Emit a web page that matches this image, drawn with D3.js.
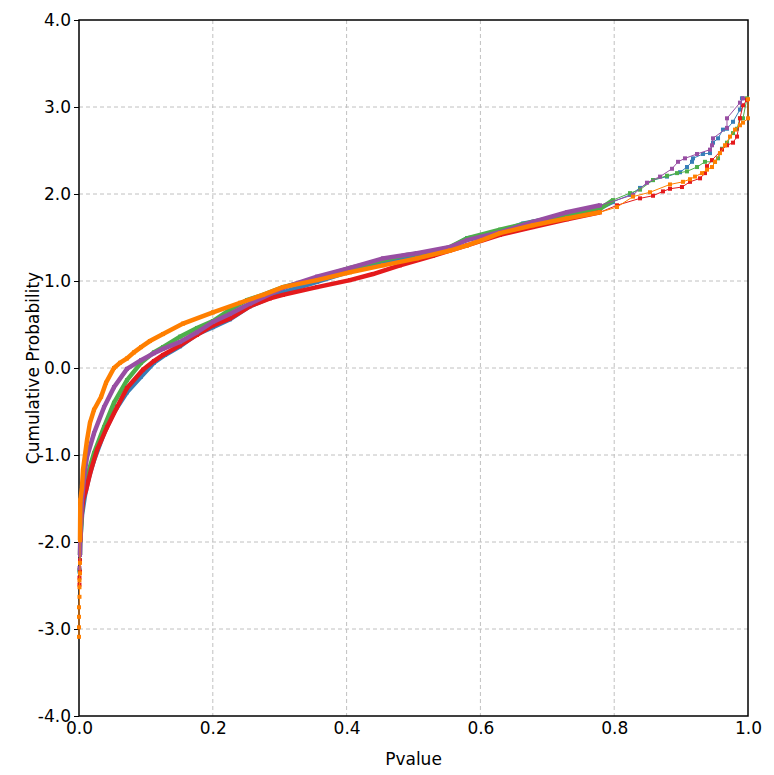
<!DOCTYPE html>
<html>
<head>
<meta charset="utf-8">
<script src="https://cdn.jsdelivr.net/npm/d3@7"></script>
<style>
  body { margin: 0; background: #fff; }
  text { font-family: "DejaVu Sans", Verdana, sans-serif; }
</style>
</head>
<body>
<svg id="chart" width="774" height="775"></svg>
<script>
// sorted p-values against their normal score, one list per series: [pvalue, score]
const blueData = [[0.0007,-2.34],[0.0015,-2.21],[0.002,-1.98],[0.0045,-1.69],[0.009,-1.46],[0.015,-1.25],[0.0224,-1.06],[0.0374,-0.75],[0.0523,-0.51],[0.0717,-0.28],[0.0927,-0.10],[0.112,0.06],[0.1286,0.15],[0.151,0.25],[0.1764,0.39],[0.2003,0.47],[0.2257,0.56],[0.2556,0.71],[0.3049,0.87],[0.3558,0.99],[0.4006,1.10],[0.4544,1.22],[0.5052,1.30],[0.5546,1.38],[0.58,1.49],[0.6293,1.56],[0.6637,1.66],[0.7294,1.76],[0.7788,1.84],[0.7982,1.91],[0.8236,1.99],[0.8386,2.07],[0.858,2.16],[0.8789,2.20],[0.8984,2.25],[0.9088,2.31],[0.9163,2.37],[0.9178,2.41],[0.9327,2.46],[0.9432,2.47],[0.9477,2.59],[0.9552,2.64],[0.9626,2.74],[0.9686,2.75],[0.9776,2.83],[0.9880,2.97],[0.9910,3.10]];
const greenData = [[0.0007,-2.32],[0.0015,-2.15],[0.002,-1.98],[0.0045,-1.63],[0.0075,-1.40],[0.012,-1.25],[0.0224,-0.98],[0.0374,-0.68],[0.0523,-0.40],[0.0717,-0.14],[0.0927,0.06],[0.112,0.18],[0.1256,0.24],[0.151,0.36],[0.1764,0.46],[0.2003,0.54],[0.2257,0.67],[0.2511,0.78],[0.275,0.84],[0.3049,0.93],[0.3558,1.03],[0.4051,1.15],[0.4544,1.24],[0.4903,1.30],[0.5291,1.34],[0.5546,1.39],[0.58,1.49],[0.6293,1.59],[0.6786,1.68],[0.7294,1.76],[0.7788,1.83],[0.7982,1.93],[0.8236,2.01],[0.8386,2.05],[0.858,2.16],[0.8789,2.21],[0.8939,2.24],[0.9088,2.26],[0.9238,2.31],[0.9357,2.37],[0.9507,2.37],[0.9552,2.41],[0.9611,2.52],[0.9686,2.59],[0.9776,2.70],[0.9836,2.75],[0.9880,2.87],[0.9925,2.87],[0.9985,3.10]];
const redData = [[0.0007,-2.49],[0.0007,-2.41],[0.0015,-2.34],[0.0015,-2.21],[0.002,-1.98],[0.003,-1.75],[0.006,-1.52],[0.0105,-1.40],[0.018,-1.17],[0.027,-0.94],[0.0419,-0.68],[0.0568,-0.45],[0.0717,-0.23],[0.0957,-0.02],[0.112,0.08],[0.1256,0.15],[0.151,0.26],[0.1764,0.38],[0.2003,0.49],[0.2257,0.57],[0.2556,0.71],[0.2855,0.80],[0.3049,0.84],[0.3558,0.93],[0.4051,1.01],[0.4395,1.08],[0.4798,1.18],[0.5291,1.29],[0.58,1.41],[0.6293,1.53],[0.6786,1.62],[0.7294,1.71],[0.7788,1.79],[0.8042,1.87],[0.8386,1.95],[0.858,1.98],[0.8729,2.03],[0.8834,2.06],[0.9013,2.08],[0.9133,2.14],[0.9283,2.18],[0.9357,2.24],[0.9387,2.32],[0.9462,2.39],[0.9611,2.51],[0.9686,2.56],[0.9776,2.59],[0.9836,2.66],[0.9880,2.87],[0.9925,3.02],[0.9985,3.08]];
const purpleData = [[0.0007,-2.30],[0.0015,-2.15],[0.002,-1.92],[0.0045,-1.52],[0.0075,-1.25],[0.012,-1.02],[0.0224,-0.75],[0.0374,-0.45],[0.0523,-0.22],[0.0717,-0.01],[0.0927,0.09],[0.112,0.17],[0.1256,0.22],[0.151,0.30],[0.1764,0.41],[0.2003,0.53],[0.2257,0.62],[0.2556,0.74],[0.3049,0.92],[0.3558,1.05],[0.4051,1.15],[0.4544,1.26],[0.5052,1.32],[0.5546,1.39],[0.58,1.47],[0.6293,1.56],[0.6786,1.68],[0.7294,1.79],[0.7788,1.87],[0.8281,1.99],[0.849,2.13],[0.8685,2.20],[0.8864,2.29],[0.8954,2.37],[0.9058,2.41],[0.9238,2.46],[0.9432,2.51],[0.9462,2.56],[0.9477,2.64],[0.9686,2.76],[0.9686,2.87],[0.9880,3.05],[0.9925,3.10]];
const orangeData = [[0,-3.09],[0,-2.98],[0,-2.86],[0,-2.75],[0.0007,-2.63],[0.0007,-2.52],[0.0007,-2.44],[0.0015,-2.36],[0.0015,-2.24],[0.0015,-1.98],[0.002,-1.52],[0.0045,-1.37],[0.006,-1.17],[0.009,-1.0],[0.012,-0.83],[0.0164,-0.63],[0.0224,-0.48],[0.033,-0.33],[0.0404,-0.17],[0.0523,0],[0.0613,0.06],[0.0717,0.11],[0.0822,0.18],[0.0927,0.24],[0.106,0.31],[0.1256,0.39],[0.1555,0.51],[0.2003,0.64],[0.2407,0.75],[0.275,0.84],[0.3049,0.93],[0.3558,1.01],[0.4051,1.10],[0.4544,1.18],[0.5052,1.26],[0.5546,1.35],[0.58,1.41],[0.6024,1.47],[0.6293,1.55],[0.6786,1.64],[0.7294,1.72],[0.7788,1.79],[0.8042,1.85],[0.8281,1.97],[0.8535,2.02],[0.8834,2.11],[0.9028,2.14],[0.9133,2.17],[0.9208,2.20],[0.9313,2.24],[0.9387,2.28],[0.9462,2.31],[0.9507,2.37],[0.9581,2.47],[0.9656,2.56],[0.9731,2.66],[0.9806,2.74],[0.9880,2.79],[0.9925,2.82],[1.0,2.87],[1.0,3.09]];

const seriesList = [
  { data: blueData, color: '#377eb8' },
  { data: greenData, color: '#4daf4a' },
  { data: redData, color: '#e41a1c' },
  { data: purpleData, color: '#984ea3' },
  { data: orangeData, color: '#ff7f00' }
];
const xTicks = [0, 0.2, 0.4, 0.6, 0.8, 1.0];
const yTicks = [-4, -3, -2, -1, 0, 1, 2, 3, 4];

const svg = d3.select('#chart');
const margin = { top: 20, right: 26, bottom: 59, left: 79 };
const width = +svg.attr('width') - margin.left - margin.right;
const height = +svg.attr('height') - margin.top - margin.bottom;
const g = svg.append('g').attr('transform', `translate(${margin.left},${margin.top})`);

const x = d3.scaleLinear().domain([0, 1]).range([0, width]);
const y = d3.scaleLinear().domain([-4, 4]).range([height, 0]);
const fmt = d => d.toFixed(1); // plain hyphen for negatives

// grid
g.append('g').selectAll('line').data(xTicks.slice(1, -1)).join('line')
  .attr('x1', d => x(d)).attr('x2', d => x(d)).attr('y1', 0).attr('y2', height)
  .attr('stroke', '#c0c0c0').attr('stroke-dasharray', '4,3');
g.append('g').selectAll('line').data(yTicks.slice(1, -1)).join('line')
  .attr('y1', d => y(d)).attr('y2', d => y(d)).attr('x1', 0).attr('x2', width)
  .attr('stroke', '#c0c0c0').attr('stroke-dasharray', '4,3');

// axes
const yAxis = g.append('g')
  .call(d3.axisLeft(y).tickValues(yTicks).tickFormat(fmt).tickSize(5).tickPadding(3));
const xAxis = g.append('g').attr('transform', `translate(0,${height})`)
  .call(d3.axisBottom(x).tickValues(xTicks).tickFormat(fmt).tickSize(0).tickPadding(6));
[yAxis, xAxis].forEach(a => {
  a.select('.domain').remove();
  a.selectAll('text').style('font-size', '17px').attr('fill', '#000').style('font-family', '"DejaVu Sans", Verdana, sans-serif');
});
yAxis.selectAll('.tick line').attr('stroke', '#000');

// frame (under the curves, the orange tail sits on the left edge)
g.append('rect').attr('width', width).attr('height', height)
  .attr('fill', 'none').attr('stroke', '#000').attr('stroke-width', 1.5);

// curves
const line = d3.line().x(d => x(d[0])).y(d => y(d[1]));
const denseP = 0.8, denseZ = -2.2; // beyond these the points stand apart

const plot = g.append('g');
seriesList.forEach(s => {
  const dense = s.data.filter(d => d[0] <= denseP && d[1] >= denseZ);
  plot.append('path').datum(dense).attr('d', line)
    .attr('fill', 'none').attr('stroke', s.color).attr('stroke-width', 4.5)
    .attr('stroke-linejoin', 'miter');
  plot.append('path').datum(s.data).attr('d', line)
    .attr('fill', 'none').attr('stroke', s.color).attr('stroke-width', 1);
  plot.append('g').selectAll('rect').data(s.data).join('rect')
    .attr('x', d => x(d[0]) - 2).attr('y', d => y(d[1]) - 2)
    .attr('width', 4).attr('height', 4).attr('fill', s.color);
});

// titles
svg.append('text').attr('x', margin.left + width / 2).attr('y', 765)
  .attr('text-anchor', 'middle').style('font-size', '17px').text('Pvalue');
svg.append('text').attr('transform', `translate(39,${margin.top + height / 2}) rotate(-90)`)
  .attr('text-anchor', 'middle').style('font-size', '17px').text('Cumulative Probability');
</script>
</body>
</html>
